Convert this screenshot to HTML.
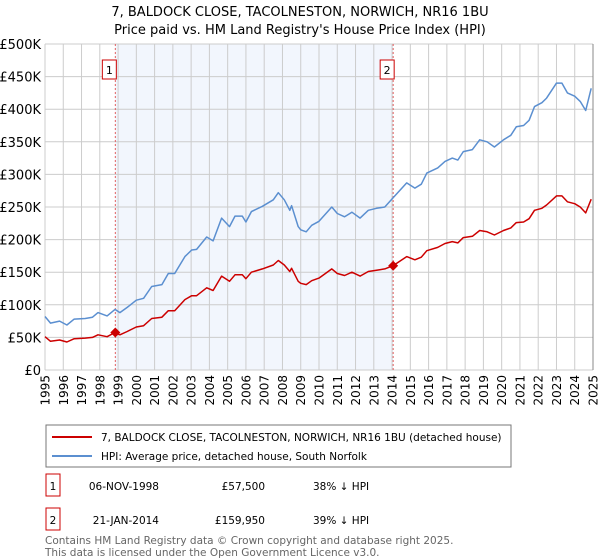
<!DOCTYPE html>
<html><head><meta charset="utf-8"><style>
body{margin:0;background:#fff;font-family:"DejaVu Sans","Liberation Sans",sans-serif;}
#wrap{position:relative;width:600px;height:560px;overflow:hidden}
</style></head><body>
<div id="wrap">
<svg id="chart" width="600" height="560" xmlns="http://www.w3.org/2000/svg"></svg>
</div>
<script>
const hpiYears=[1995.0,1995.3,1995.8,1996.2,1996.6,1997.2,1997.6,1997.9,1998.4,1998.83,1999.1,1999.5,2000.0,2000.4,2000.84,2001.4,2001.75,2002.1,2002.66,2003.03,2003.3,2003.85,2004.2,2004.67,2005.1,2005.4,2005.8,2006.0,2006.3,2006.9,2007.5,2007.77,2008.1,2008.4,2008.5,2008.86,2009.0,2009.3,2009.6,2010.0,2010.7,2011.0,2011.4,2011.8,2012.25,2012.7,2013.15,2013.6,2014.05,2014.8,2015.25,2015.6,2015.9,2016.5,2016.9,2017.3,2017.6,2017.9,2018.4,2018.8,2019.2,2019.6,2020.1,2020.5,2020.8,2021.2,2021.5,2021.8,2022.2,2022.46,2023.0,2023.3,2023.6,2024.0,2024.3,2024.6,2024.9];
const hpiValues=[82,72,75,69,78,79,81,88,83,93,88,96,107,110,128,131,148,148,174,184,185,204,198,233,220,236,236,227,243,251,261,272,261,245,252,220,215,212,222,228,250,240,235,242,233,245,248,250,264,287,279,285,302,310,320,325,322,335,338,353,350,342,353,360,373,375,383,404,410,417,440,440,425,420,412,398,432];
const priceValues=[51,44,46,43,48,49,50,54,51,57.5,54,59,66,68,79,81,91,91,108,114,114,126,122,144,136,146,146,140,150,155,161,168,161,151,156,136,133,131,137,141,155,148,145,150,144,151,153,155,160,174,169,173,183,188,194,197,195,203,205,214,212,207,214,218,226,227,232,245,248,253,267,267,258,255,250,241,262];
const saleYears=[1998.85,2014.06];
const saleValues=[57.5,159.95];
const saleLabels=["1","2"];
const yTicks=[0,50,100,150,200,250,300,350,400,450,500];
const yTickLabels=["£0","£50K","£100K","£150K","£200K","£250K","£300K","£350K","£400K","£450K","£500K"];
const xTicks=[1995,1996,1997,1998,1999,2000,2001,2002,2003,2004,2005,2006,2007,2008,2009,2010,2011,2012,2013,2014,2015,2016,2017,2018,2019,2020,2021,2022,2023,2024,2025];

const NS="http://www.w3.org/2000/svg";
const svg=document.getElementById('chart');
const L=45,R=593,T=44,B=370;
const xs=y=>L+(y-1995)/(2025-1995)*(R-L);
const ys=v=>B-v/500*(B-T);
function mk(tag,attrs,parent){const e=document.createElementNS(NS,tag);for(const k in attrs)e.setAttribute(k,attrs[k]);(parent||svg).appendChild(e);return e;}

let t=mk('text',{x:300,y:16,'text-anchor':'middle','font-size':13,fill:'#000'});t.textContent="7, BALDOCK CLOSE, TACOLNESTON, NORWICH, NR16 1BU";

t=mk('text',{x:300,y:34,'text-anchor':'middle','font-size':13,fill:'#000'});t.textContent="Price paid vs. HM Land Registry's House Price Index (HPI)";


let sh=mk('rect',{x:xs(saleYears[0]),y:T,width:xs(saleYears[1])-xs(saleYears[0]),height:B-T,fill:'#eef3fc',opacity:0.75});


yTicks.forEach((v,i)=>{
 const g=mk('line',{x1:L,x2:R,y1:ys(v),y2:ys(v),stroke:'#cccccc','stroke-width':1});
 
 const lb=mk('text',{x:L-4,y:ys(v)+5,'text-anchor':'end','font-size':13,fill:'#000'});lb.textContent=yTickLabels[i];
 
});
xTicks.forEach(y=>{
 const g=mk('line',{x1:xs(y),x2:xs(y),y1:T,y2:B,stroke:'#cccccc','stroke-width':1});
 
 const lb=mk('text',{x:0,y:0,'text-anchor':'end','font-size':12,fill:'#000',transform:`translate(${xs(y)+4.5},375) rotate(-90)`});lb.textContent=y;
 
});

saleYears.forEach((y,i)=>{
 const vl=mk('line',{x1:xs(y),x2:xs(y),y1:T,y2:B,stroke:'#e06060','stroke-width':1,'stroke-dasharray':'2,2'});
 
 const bx=mk('rect',{x:xs(y)-13,y:60,width:14,height:19,fill:'#fff',stroke:'#cc0000','stroke-width':1});
 
 const tx=mk('text',{x:xs(y)-6,y:74,'text-anchor':'middle','font-size':11,fill:'#000'});tx.textContent=saleLabels[i];
 
});

function path(xa,va,color,name){
 const d=xa.map((y,i)=>(i?'L':'M')+xs(y).toFixed(1)+','+ys(va[i]).toFixed(1)).join(' ');
 const p=mk('path',{d:d,fill:'none',stroke:color,'stroke-width':1.5,'stroke-linejoin':'round'});
 
}
path(hpiYears,hpiValues,'#5b8fd0','hpi-line');
path(hpiYears,priceValues,'#cc0000','price-paid-line');
saleYears.forEach((y,i)=>{
 const cx=xs(y),cy=ys(saleValues[i]);
 const d=mk('polygon',{points:`${cx},${cy-5} ${cx+5},${cy} ${cx},${cy+5} ${cx-5},${cy}`,fill:'#cc0000'});
 
});
const ax=mk('line',{x1:R,x2:R,y1:T,y2:B,stroke:'#888','stroke-width':1});


const lg=mk('rect',{x:46,y:425,width:465,height:42,fill:'#fff',stroke:'#777','stroke-width':1});

let ln=mk('line',{x1:52,x2:92,y1:437,y2:437,stroke:'#cc0000','stroke-width':2});

t=mk('text',{x:101,y:441,'font-size':10.5,fill:'#000'});t.textContent="7, BALDOCK CLOSE, TACOLNESTON, NORWICH, NR16 1BU (detached house)";

ln=mk('line',{x1:52,x2:92,y1:456,y2:456,stroke:'#5b8fd0','stroke-width':2});

t=mk('text',{x:101,y:460,'font-size':10.5,fill:'#000'});t.textContent="HPI: Average price, detached house, South Norfolk";


const rows=[["1","06-NOV-1998","£57,500","38% ↓ HPI"],["2","21-JAN-2014","£159,950","39% ↓ HPI"]];
rows.forEach((r,i)=>{
 const y=488+i*34;
 const b=mk('rect',{x:46,y:y-14,width:14,height:22,fill:'#fff',stroke:'#cc0000','stroke-width':1});
 
 let tt=mk('text',{x:53,y:y+2,'text-anchor':'middle','font-size':10.5});tt.textContent=r[0];
 
 tt=mk('text',{x:159,y:y+2,'text-anchor':'end','font-size':10.5});tt.textContent=r[1];
 
 tt=mk('text',{x:265,y:y+2,'text-anchor':'end','font-size':10.5});tt.textContent=r[2];
 
 tt=mk('text',{x:313,y:y+2,'font-size':10.5});tt.textContent=r[3];
 
});
t=mk('text',{x:45,y:544,'font-size':10.5,fill:'#666'});t.textContent="Contains HM Land Registry data © Crown copyright and database right 2025.";

t=mk('text',{x:45,y:556,'font-size':10.5,fill:'#666'});t.textContent="This data is licensed under the Open Government Licence v3.0.";

</script>
</body></html>
